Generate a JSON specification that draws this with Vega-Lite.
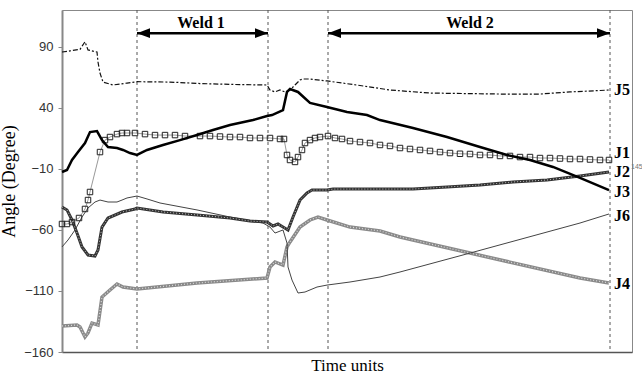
{
  "$schema": "https://vega.github.io/schema/vega-lite/v6.json",
  "width": 570,
  "height": 342,
  "autosize": "none",
  "padding": {"left": 62, "top": 10, "right": 10, "bottom": 26},
  "config": {
    "view": {"stroke": "#888", "strokeWidth": 1},
    "font": "Liberation Serif"
  },
  "datasets": {
    "series": [
      {"s":"J5","t":0,"v":85.6},{"s":"J5","t":8,"v":86.5},{"s":"J5","t":18,"v":87.8},{"s":"J5","t":23,"v":94},{"s":"J5","t":26,"v":87.3},{"s":"J5","t":35,"v":85.6},{"s":"J5","t":36,"v":77.4},{"s":"J5","t":38,"v":68.4},{"s":"J5","t":41,"v":61},{"s":"J5","t":51,"v":58.6},{"s":"J5","t":65,"v":60.2},{"s":"J5","t":75,"v":61.3},{"s":"J5","t":108,"v":61},{"s":"J5","t":138,"v":59.8},{"s":"J5","t":173,"v":59},{"s":"J5","t":205,"v":58.6},{"s":"J5","t":208,"v":54.5},{"s":"J5","t":213,"v":52.9},{"s":"J5","t":218,"v":54.5},{"s":"J5","t":223,"v":52.9},{"s":"J5","t":228,"v":54.5},{"s":"J5","t":233,"v":58.6},{"s":"J5","t":238,"v":62.7},{"s":"J5","t":241,"v":63.5},{"s":"J5","t":248,"v":63.5},{"s":"J5","t":265,"v":61.9},{"s":"J5","t":298,"v":58.2},{"s":"J5","t":328,"v":54.5},{"s":"J5","t":368,"v":52},{"s":"J5","t":438,"v":51.2},{"s":"J5","t":478,"v":51.2},{"s":"J5","t":508,"v":52.9},{"s":"J5","t":538,"v":54.1},{"s":"J5","t":547,"v":54.5},

      {"s":"J1","t":0,"v":-55.2},{"s":"J1","t":5,"v":-55.2},{"s":"J1","t":10,"v":-53.6},{"s":"J1","t":17,"v":-50.3},{"s":"J1","t":23,"v":-42.9},{"s":"J1","t":26,"v":-35.6},{"s":"J1","t":28,"v":-29},{"s":"J1","t":38,"v":3.7},{"s":"J1","t":43,"v":13.5},{"s":"J1","t":48,"v":16},{"s":"J1","t":55,"v":18.4},{"s":"J1","t":60,"v":19.3},{"s":"J1","t":65,"v":19.3},{"s":"J1","t":73,"v":19.3},{"s":"J1","t":83,"v":18.4},{"s":"J1","t":93,"v":17.6},{"s":"J1","t":103,"v":17.6},{"s":"J1","t":113,"v":17.6},{"s":"J1","t":123,"v":16.8},{"s":"J1","t":138,"v":16.8},{"s":"J1","t":148,"v":16.8},{"s":"J1","t":158,"v":16.4},{"s":"J1","t":168,"v":16},{"s":"J1","t":178,"v":16},{"s":"J1","t":188,"v":15.2},{"s":"J1","t":198,"v":15.2},{"s":"J1","t":208,"v":15.2},{"s":"J1","t":218,"v":14.4},{"s":"J1","t":222,"v":14.4},{"s":"J1","t":225,"v":1.3},{"s":"J1","t":228,"v":-2.8},{"s":"J1","t":233,"v":-4.4},{"s":"J1","t":236,"v":-0.4},{"s":"J1","t":240,"v":5.4},{"s":"J1","t":243,"v":11.1},{"s":"J1","t":248,"v":13.5},{"s":"J1","t":253,"v":15.2},{"s":"J1","t":258,"v":16},{"s":"J1","t":266,"v":16.8},{"s":"J1","t":273,"v":15.2},{"s":"J1","t":280,"v":14.4},{"s":"J1","t":288,"v":12.7},{"s":"J1","t":298,"v":11.9},{"s":"J1","t":308,"v":11.1},{"s":"J1","t":318,"v":9.5},{"s":"J1","t":328,"v":8.7},{"s":"J1","t":338,"v":7},{"s":"J1","t":348,"v":6.2},{"s":"J1","t":358,"v":5.4},{"s":"J1","t":368,"v":4.6},{"s":"J1","t":378,"v":3.7},{"s":"J1","t":388,"v":2.9},{"s":"J1","t":398,"v":2.3},{"s":"J1","t":408,"v":2.1},{"s":"J1","t":418,"v":1.3},{"s":"J1","t":428,"v":1.3},{"s":"J1","t":438,"v":0.5},{"s":"J1","t":448,"v":0.5},{"s":"J1","t":458,"v":-0.4},{"s":"J1","t":468,"v":-0.4},{"s":"J1","t":478,"v":-1.2},{"s":"J1","t":488,"v":-1.2},{"s":"J1","t":498,"v":-1.6},{"s":"J1","t":508,"v":-2},{"s":"J1","t":518,"v":-2},{"s":"J1","t":528,"v":-2.4},{"s":"J1","t":538,"v":-2.8},{"s":"J1","t":547,"v":-2.8},

      {"s":"J3","t":0,"v":-12.6},{"s":"J3","t":5,"v":-11},{"s":"J3","t":10,"v":-2.8},{"s":"J3","t":16,"v":3.7},{"s":"J3","t":23,"v":11.1},{"s":"J3","t":28,"v":20.1},{"s":"J3","t":35,"v":20.9},{"s":"J3","t":40,"v":13.5},{"s":"J3","t":46,"v":7.8},{"s":"J3","t":55,"v":7},{"s":"J3","t":61,"v":5.4},{"s":"J3","t":68,"v":2.9},{"s":"J3","t":75,"v":1.3},{"s":"J3","t":85,"v":5.4},{"s":"J3","t":101,"v":9.5},{"s":"J3","t":118,"v":13.5},{"s":"J3","t":135,"v":17.7},{"s":"J3","t":151,"v":21.8},{"s":"J3","t":168,"v":25.8},{"s":"J3","t":191,"v":29.9},{"s":"J3","t":205,"v":33.2},{"s":"J3","t":210,"v":34},{"s":"J3","t":221,"v":38.1},{"s":"J3","t":225,"v":52.9},{"s":"J3","t":228,"v":55.3},{"s":"J3","t":236,"v":52.9},{"s":"J3","t":248,"v":43.9},{"s":"J3","t":265,"v":40.6},{"s":"J3","t":285,"v":36.5},{"s":"J3","t":305,"v":34},{"s":"J3","t":318,"v":29.9},{"s":"J3","t":351,"v":23.4},{"s":"J3","t":385,"v":16},{"s":"J3","t":418,"v":7.8},{"s":"J3","t":445,"v":1.3},{"s":"J3","t":468,"v":-2.8},{"s":"J3","t":491,"v":-8.5},{"s":"J3","t":518,"v":-17.5},{"s":"J3","t":547,"v":-27.4},

      {"s":"J2","t":0,"v":-41.3},{"s":"J2","t":5,"v":-43.7},{"s":"J2","t":10,"v":-51.9},{"s":"J2","t":15,"v":-62.6},{"s":"J2","t":20,"v":-74},{"s":"J2","t":26,"v":-80.6},{"s":"J2","t":33,"v":-81.4},{"s":"J2","t":36,"v":-76.5},{"s":"J2","t":40,"v":-57.7},{"s":"J2","t":46,"v":-50.3},{"s":"J2","t":60,"v":-45.4},{"s":"J2","t":73,"v":-42.9},{"s":"J2","t":75,"v":-42.1},{"s":"J2","t":101,"v":-45.4},{"s":"J2","t":135,"v":-47.8},{"s":"J2","t":168,"v":-50.3},{"s":"J2","t":188,"v":-52.8},{"s":"J2","t":205,"v":-53.6},{"s":"J2","t":211,"v":-56.8},{"s":"J2","t":216,"v":-55.2},{"s":"J2","t":221,"v":-57.7},{"s":"J2","t":226,"v":-60.1},{"s":"J2","t":231,"v":-49.5},{"s":"J2","t":238,"v":-35.6},{"s":"J2","t":245,"v":-29.8},{"s":"J2","t":250,"v":-27.4},{"s":"J2","t":265,"v":-27.4},{"s":"J2","t":271,"v":-26.6},{"s":"J2","t":318,"v":-26.6},{"s":"J2","t":351,"v":-26.6},{"s":"J2","t":385,"v":-24.9},{"s":"J2","t":418,"v":-23.3},{"s":"J2","t":451,"v":-20.8},{"s":"J2","t":485,"v":-19.2},{"s":"J2","t":518,"v":-15.9},{"s":"J2","t":547,"v":-12.6},

      {"s":"J6","t":0,"v":-74},{"s":"J6","t":6,"v":-68.3},{"s":"J6","t":13,"v":-60.1},{"s":"J6","t":20,"v":-49.5},{"s":"J6","t":26,"v":-42.1},{"s":"J6","t":33,"v":-37.2},{"s":"J6","t":38,"v":-35.6},{"s":"J6","t":46,"v":-37.2},{"s":"J6","t":55,"v":-37.2},{"s":"J6","t":60,"v":-35.6},{"s":"J6","t":65,"v":-33.9},{"s":"J6","t":75,"v":-32.3},{"s":"J6","t":85,"v":-34.7},{"s":"J6","t":98,"v":-38},{"s":"J6","t":135,"v":-43.7},{"s":"J6","t":168,"v":-49.5},{"s":"J6","t":201,"v":-54.4},{"s":"J6","t":208,"v":-57.7},{"s":"J6","t":213,"v":-62.6},{"s":"J6","t":221,"v":-60.1},{"s":"J6","t":225,"v":-70.8},{"s":"J6","t":226,"v":-90.4},{"s":"J6","t":230,"v":-101.1},{"s":"J6","t":236,"v":-111.7},{"s":"J6","t":243,"v":-110.9},{"s":"J6","t":255,"v":-106.8},{"s":"J6","t":265,"v":-105.2},{"s":"J6","t":288,"v":-102.7},{"s":"J6","t":318,"v":-98.6},{"s":"J6","t":338,"v":-94.5},{"s":"J6","t":408,"v":-79},{"s":"J6","t":518,"v":-54.4},{"s":"J6","t":547,"v":-47},

      {"s":"J4","t":0,"v":-138.7},{"s":"J4","t":15,"v":-137.9},{"s":"J4","t":18,"v":-139.5},{"s":"J4","t":23,"v":-147.7},{"s":"J4","t":26,"v":-144.4},{"s":"J4","t":30,"v":-136.3},{"s":"J4","t":36,"v":-137.9},{"s":"J4","t":40,"v":-115},{"s":"J4","t":48,"v":-109.2},{"s":"J4","t":55,"v":-104.3},{"s":"J4","t":61,"v":-106.8},{"s":"J4","t":75,"v":-108.4},{"s":"J4","t":85,"v":-107.6},{"s":"J4","t":135,"v":-103.5},{"s":"J4","t":205,"v":-99.4},{"s":"J4","t":208,"v":-90.4},{"s":"J4","t":213,"v":-86.3},{"s":"J4","t":221,"v":-88.8},{"s":"J4","t":225,"v":-74},{"s":"J4","t":228,"v":-69.9},{"s":"J4","t":238,"v":-57.7},{"s":"J4","t":248,"v":-51.9},{"s":"J4","t":256,"v":-49.5},{"s":"J4","t":265,"v":-51.9},{"s":"J4","t":288,"v":-57.7},{"s":"J4","t":318,"v":-60.9},{"s":"J4","t":338,"v":-65.8},{"s":"J4","t":351,"v":-68.3},{"s":"J4","t":408,"v":-79},{"s":"J4","t":518,"v":-99.4},{"s":"J4","t":547,"v":-103.5}
    ],
    "markers": [{"t": 75}, {"t": 206}, {"t": 266}, {"t": 548}],
    "welds": [
      {"name": "Weld 1", "start": 75, "end": 206, "mid": 139, "v": 101, "tv": 109},
      {"name": "Weld 2", "start": 266, "end": 548, "mid": 408, "v": 101, "tv": 109}
    ],
    "heads": [
      {"t": 75, "v": 101, "dir": "L"}, {"t": 206, "v": 101, "dir": "R"},
      {"t": 266, "v": 101, "dir": "L"}, {"t": 548, "v": 101, "dir": "R"}
    ],
    "labels": [
      {"label": "J5", "t": 552, "v": 54.5},
      {"label": "J1", "t": 552, "v": 2.9},
      {"label": "J2", "t": 552, "v": -12.6},
      {"label": "J3", "t": 552, "v": -29},
      {"label": "J6", "t": 552, "v": -48.7},
      {"label": "J4", "t": 552, "v": -104.3}
    ],
    "sup": [{"label": "145", "t": 569, "v": -8.5}]
  },
  "encoding": {
    "x": {"field": "t", "type": "quantitative", "scale": {"domain": [0, 570], "nice": false, "zero": false},
      "axis": {"title": "Time units", "labels": false, "ticks": false, "grid": false, "domainColor": "#555", "domainWidth": 1.5, "titleFont": "Liberation Serif", "titleFontSize": 17, "titleFontWeight": "normal", "titleColor": "#000", "titlePadding": 5}},
    "y": {"field": "v", "type": "quantitative", "scale": {"domain": [-160, 120], "nice": false, "zero": false},
      "axis": {"title": "Angle (Degree)", "values": [-160, -110, -60, -10, 40, 90], "grid": false, "tickSize": 4, "tickColor": "#888", "domainColor": "#888", "domainWidth": 2, "labelFont": "Liberation Sans", "labelFontSize": 13, "labelColor": "#333", "labelPadding": 5, "titleFont": "Liberation Serif", "titleFontSize": 18, "titleFontWeight": "normal", "titleColor": "#000", "titlePadding": 5}}
  },
  "layer": [
    {"data": {"name": "markers"}, "mark": {"type": "rule", "stroke": "#555", "strokeWidth": 1, "strokeDash": [3, 3]}, "encoding": {"y": null}},
    {"data": {"values": [{}]}, "mark": {"type": "rule", "stroke": "#000", "strokeWidth": 1}, "encoding": {"x": null, "y": {"datum": 0, "type": "quantitative"}}},
    {"data": {"name": "series"}, "transform": [{"filter": "datum.s === 'J5'"}], "mark": {"type": "line", "stroke": "#111", "strokeWidth": 1.2, "strokeDash": [5, 2, 2, 2]}},
    {"data": {"name": "series"}, "transform": [{"filter": "datum.s === 'J4'"}], "mark": {"type": "line", "stroke": "#8a8a8a", "strokeWidth": 3.5}},
    {"data": {"name": "series"}, "transform": [{"filter": "datum.s === 'J4'"}], "mark": {"type": "line", "stroke": "#d8d8d8", "strokeWidth": 1.2, "strokeDash": [1, 2]}},
    {"data": {"name": "series"}, "transform": [{"filter": "datum.s === 'J6'"}], "mark": {"type": "line", "stroke": "#444", "strokeWidth": 1}},
    {"data": {"name": "series"}, "transform": [{"filter": "datum.s === 'J2'"}], "mark": {"type": "line", "stroke": "#333", "strokeWidth": 3}},
    {"data": {"name": "series"}, "transform": [{"filter": "datum.s === 'J2'"}], "mark": {"type": "line", "stroke": "#bbb", "strokeWidth": 1, "strokeDash": [1, 2]}},
    {"data": {"name": "series"}, "transform": [{"filter": "datum.s === 'J1'"}], "mark": {"type": "line", "stroke": "#999", "strokeWidth": 1}},
    {"data": {"name": "series"}, "transform": [{"filter": "datum.s === 'J1'"}], "mark": {"type": "point", "shape": "square", "filled": false, "stroke": "#222", "strokeWidth": 1, "size": 30, "opacity": 1}},
    {"data": {"name": "series"}, "transform": [{"filter": "datum.s === 'J3'"}], "mark": {"type": "line", "stroke": "#000", "strokeWidth": 2.5}},
    {"data": {"name": "welds"}, "mark": {"type": "rule", "stroke": "#000", "strokeWidth": 2.5},
      "encoding": {"x": {"field": "start", "type": "quantitative"}, "x2": {"field": "end"}, "y": {"field": "v", "type": "quantitative"}}},
    {"data": {"name": "heads"}, "mark": {"type": "point", "filled": true, "fill": "#000", "stroke": null, "opacity": 1, "size": 169},
      "encoding": {"shape": {"field": "dir", "type": "nominal", "scale": {"domain": ["L", "R"], "range": ["M0,0L2,-0.75L2,0.75Z", "M0,0L-2,-0.75L-2,0.75Z"]}, "legend": null}}},
    {"data": {"name": "welds"}, "mark": {"type": "text", "font": "Liberation Serif", "fontSize": 16, "fontWeight": "bold", "align": "center", "baseline": "middle", "color": "#000"},
      "encoding": {"x": {"field": "mid", "type": "quantitative"}, "y": {"field": "tv", "type": "quantitative"}, "text": {"field": "name"}}},
    {"data": {"name": "labels"}, "mark": {"type": "text", "font": "Liberation Serif", "fontSize": 16, "fontWeight": "bold", "align": "left", "baseline": "middle", "color": "#000"},
      "encoding": {"text": {"field": "label"}}},
    {"data": {"name": "sup"}, "mark": {"type": "text", "font": "Liberation Sans", "fontSize": 7, "align": "left", "baseline": "middle", "color": "#777"},
      "encoding": {"text": {"field": "label"}}}
  ]
}
